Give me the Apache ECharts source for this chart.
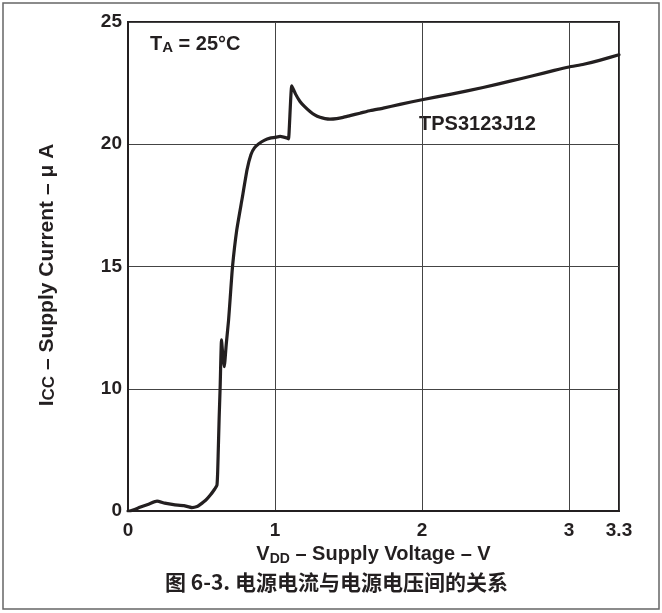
<!DOCTYPE html>
<html>
<head>
<meta charset="utf-8">
<script src="https://cdn.jsdelivr.net/npm/echarts@6/dist/echarts.min.js"></script>
<style>
html,body{margin:0;padding:0;background:#fff;}
#c{width:662px;height:613px;}
</style>
</head>
<body>
<div id="c"></div>
<script>
// Supply voltage (V) and supply current (axis units, bottom gridline labelled "0")
var voltage = [0.00,0.01,0.08,0.14,0.197,0.25,0.31,0.38,0.435,0.47,0.49,0.53,0.56,0.59,0.605,0.61,0.616,0.62,0.627,0.636,0.646,0.655,0.668,0.684,0.695,0.711,0.74,0.775,0.81,0.836,0.86,0.89,0.93,0.967,1.0,1.035,1.084,1.092,1.114,1.14,1.17,1.2,1.238,1.27,1.306,1.34,1.374,1.42,1.464,1.51,1.578,1.65,1.736,1.85,2.0,2.2,2.415,2.6,2.754,2.9,3.0,3.1,3.207,3.34];
var current = [5.0,5.0,5.15,5.28,5.40,5.32,5.26,5.22,5.14,5.18,5.26,5.45,5.65,5.9,6.05,6.6,7.9,8.8,10.1,12.0,11.3,10.9,11.8,12.8,13.7,15.0,16.5,17.73,18.96,19.57,19.85,20.02,20.17,20.25,20.28,20.32,20.25,20.22,22.39,22.05,21.75,21.55,21.34,21.2,21.1,21.05,21.03,21.05,21.1,21.17,21.27,21.38,21.48,21.63,21.82,22.05,22.32,22.58,22.8,23.02,23.16,23.27,23.43,23.66];
var yTickLabels = {5:'0',10:'10',15:'15',20:'20',25:'25'};
var xTickLabels = {0:'0',1:'1',2:'2',3:'3',3.34:'3.3'};

var pts = voltage.map(function(v,i){return [v,current[i]];});
var ink = '#231f20';
var chart = echarts.init(document.getElementById('c'));
chart.setOption({
  animation:false,
  backgroundColor:'#fff',
  grid:{left:128,top:22,width:491,height:489,show:true,borderColor:ink,borderWidth:2,backgroundColor:'transparent'},
  xAxis:{
    type:'value',min:0,max:3.34,interval:1,
    axisLine:{show:true,lineStyle:{color:ink,width:2}},
    axisTick:{show:false},
    splitLine:{show:true,lineStyle:{color:'#444',width:1}},
    axisLabel:{margin:10,color:ink,fontFamily:'Liberation Sans',fontWeight:'bold',fontSize:19,
      formatter:function(v){return xTickLabels[v]!==undefined?xTickLabels[v]:(v>3.2?'3.3':String(v));}},
    name:'{b|V}{s|DD}{b| – Supply Voltage – V}',
    nameLocation:'middle',nameGap:29,
    nameTextStyle:{rich:{
      b:{fontFamily:'Liberation Sans',fontWeight:'bold',fontSize:20,color:ink},
      s:{fontFamily:'Liberation Sans',fontWeight:'bold',fontSize:14,color:ink,padding:[8,0,0,0]}
    }}
  },
  yAxis:{
    type:'value',min:5,max:25,interval:5,
    axisLine:{show:true,lineStyle:{color:ink,width:2}},
    axisTick:{show:false},
    splitLine:{show:true,lineStyle:{color:'#444',width:1}},
    axisLabel:{margin:6,color:ink,fontFamily:'Liberation Sans',fontWeight:'bold',fontSize:19,
      formatter:function(v){return yTickLabels[v]!==undefined?yTickLabels[v]:String(v);}},
    name:'{b|I}{s|CC}{b| – Supply Current – μ A}',
    nameLocation:'middle',nameGap:70,
    nameTextStyle:{padding:[0,17,0,0],rich:{
      b:{fontFamily:'Liberation Sans',fontWeight:'bold',fontSize:21,color:ink},
      s:{fontFamily:'Liberation Sans',fontWeight:'bold',fontSize:17,color:ink,padding:[4,0,0,0]}
    }}
  },
  series:[{
    type:'line',data:pts,showSymbol:false,smooth:0.15,
    lineStyle:{color:ink,width:3.2,join:'round',cap:'round'}
  }],
  graphic:[
    {type:'rect',shape:{x:3,y:3,width:656,height:606},style:{fill:'none',stroke:'#666',lineWidth:1.5},silent:true},
    {type:'text',left:150,top:34,style:{
      text:'{b|T}{s|A}{b| = 25°C}',
      rich:{
        b:{fontFamily:'Liberation Sans',fontWeight:'bold',fontSize:20,fill:ink},
        s:{fontFamily:'Liberation Sans',fontWeight:'bold',fontSize:15,fill:ink,padding:[7,0,0,0]}
      }}},
    {type:'text',left:419,top:114,style:{text:'TPS3123J12',fontFamily:'Liberation Sans',fontWeight:'bold',fontSize:20,fill:ink}},
    {type:'text',left:165,top:572,style:{text:'图 6-3. 电源电流与电源电压间的关系',fontFamily:'"Noto Sans CJK SC"',fontWeight:'bold',fontSize:21,fill:ink}}
  ]
});
</script>
</body>
</html>
